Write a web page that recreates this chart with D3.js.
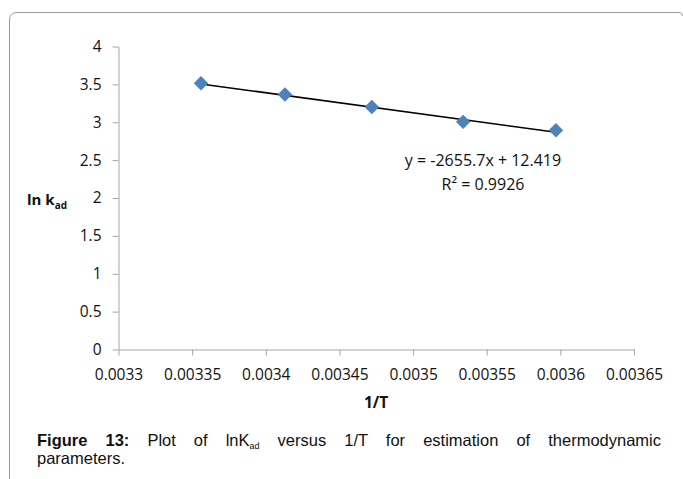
<!DOCTYPE html>
<html>
<head>
<meta charset="utf-8">
<title>lnK versus 1/T</title>
<script src="https://d3js.org/d3.v7.min.js"></script>
<style>
  * { margin: 0; padding: 0; }
  body { background: #fff; width: 683px; height: 479px; position: relative; overflow: hidden; }
  svg { position: absolute; left: 0; top: 0; }
  .axis path, .axis line { stroke: #a6a6a6; stroke-width: 1; fill: none; }
  .axis text { font-family: "Open Sans", sans-serif; font-size: 15.5px; fill: #111; }
  .caption {
    position: absolute; left: 37px; width: 624px;
    font-family: "Liberation Sans", Arial, sans-serif; font-size: 16.5px; line-height: 19px; color: #111;
    white-space: nowrap;
  }
  #cap1 { top: 431px; text-align: justify; text-align-last: justify; white-space: normal; }
  #cap2 { top: 449px; }
  .caption sub { font-size: 9px; vertical-align: -3px; }
</style>
</head>
<body>
<svg id="chart" width="683" height="479"></svg>
<div class="caption" id="cap1"><b>Figure 13:</b> Plot of lnK<sub>ad</sub> versus 1/T for estimation of thermodynamic</div>
<div class="caption" id="cap2">parameters.</div>
<script>
// 1/T values and ln k_ad
const invT = [0.003356, 0.003413, 0.003472, 0.003534, 0.003597];
const lnK = [3.515, 3.365, 3.20, 3.005, 2.895];

const xTicks = [0.0033, 0.00335, 0.0034, 0.00345, 0.0035, 0.00355, 0.0036, 0.00365];
const xTickLabels = ["0.0033", "0.00335", "0.0034", "0.00345", "0.0035", "0.00355", "0.0036", "0.00365"];
const yTicks = [0, 0.5, 1, 1.5, 2, 2.5, 3, 3.5, 4];
const yTickLabels = ["0", "0.5", "1", "1.5", "2", "2.5", "3", "3.5", "4"];

const slope = -2655.7;
const intercept = 12.419;
const eqLines = ["y = -2655.7x + 12.419", "R\u00B2 = 0.9926"];

const svg = d3.select("#chart");

// outer frame (rounded top-left corner, left side runs off the page)
svg.append("path")
  .attr("d", "M9.5,479 L9.5,20 Q9.5,12.5 17,12.5 L679,12.5 Q682.5,12.5 682.5,16")
  .attr("fill", "none")
  .attr("stroke", "#9a9a9a")
  .attr("stroke-width", 1);

const x = d3.scaleLinear().domain([0.0033, 0.00365]).range([118.5, 634]);
const y = d3.scaleLinear().domain([0, 4]).range([349.5, 46.5]);

const xAxis = d3.axisBottom(x)
  .tickValues(xTicks)
  .tickFormat((d, i) => xTickLabels[i])
  .tickSizeInner(6).tickSizeOuter(0).tickPadding(13);

const yAxis = d3.axisLeft(y)
  .tickValues(yTicks)
  .tickFormat((d, i) => yTickLabels[i])
  .tickSizeInner(6).tickSizeOuter(0).tickPadding(11);

svg.append("g").attr("class", "axis")
  .attr("transform", "translate(0,349.5)")
  .call(xAxis);

svg.append("g").attr("class", "axis")
  .attr("transform", "translate(118.5,0)")
  .call(yAxis);

// trendline over the data range
const x0 = d3.min(invT), x1 = d3.max(invT);
svg.append("line")
  .attr("x1", x(x0)).attr("y1", y(slope * x0 + intercept))
  .attr("x2", x(x1)).attr("y2", y(slope * x1 + intercept))
  .attr("stroke", "#000")
  .attr("stroke-width", 1.5);

// diamond markers
svg.selectAll(".pt")
  .data(invT)
  .enter()
  .append("path")
  .attr("class", "pt")
  .attr("d", d3.symbol().type(d3.symbolSquare).size(105))
  .attr("transform", (d, i) => "translate(" + x(d) + "," + y(lnK[i]) + ") rotate(45)")
  .attr("fill", "#4f81bd");

// trendline equation
svg.selectAll(".eq")
  .data(eqLines)
  .enter()
  .append("text")
  .attr("class", "eq")
  .attr("x", 483)
  .attr("y", (d, i) => 166 + i * 24)
  .attr("text-anchor", "middle")
  .style("font-family", "Open Sans, sans-serif")
  .style("font-size", "16px")
  .attr("fill", "#111")
  .text(d => d);

// axis titles
const yTitle = svg.append("text")
  .attr("x", 27)
  .attr("y", 205)
  .style("font-family", "Open Sans, sans-serif")
  .style("font-size", "15px")
  .style("font-weight", "bold")
  .attr("fill", "#111");
yTitle.append("tspan").text("ln k");
yTitle.append("tspan").attr("dy", 4).style("font-size", "10px").text("ad");

svg.append("text")
  .attr("x", 376)
  .attr("y", 408)
  .attr("text-anchor", "middle")
  .style("font-family", "Open Sans, sans-serif")
  .style("font-size", "15.5px")
  .style("font-weight", "bold")
  .attr("fill", "#111")
  .text("1/T");
</script>
</body>
</html>
